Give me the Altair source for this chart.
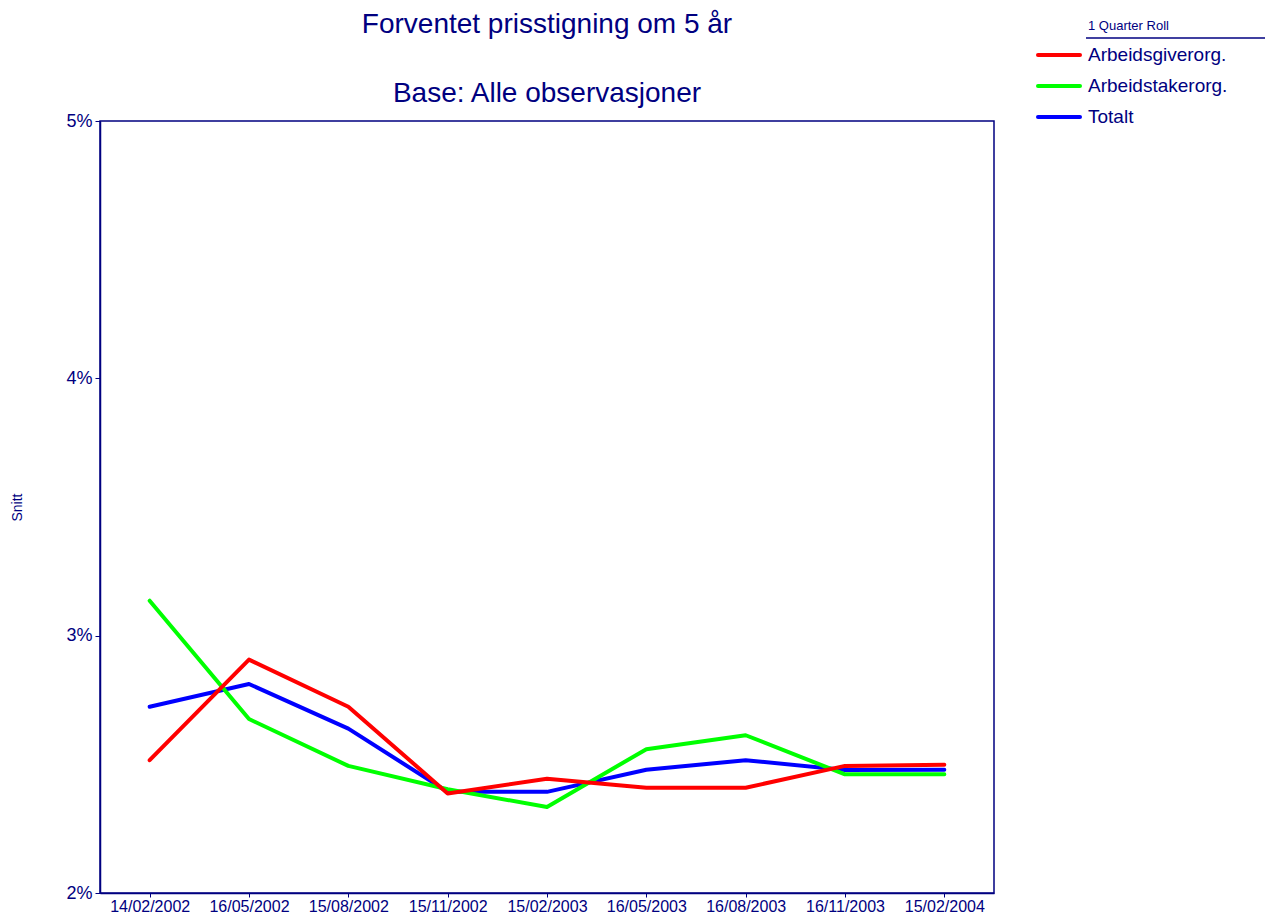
import altair as alt
import pandas as pd

dates = ["14/02/2002", "16/05/2002", "15/08/2002", "15/11/2002", "15/02/2003",
         "16/05/2003", "16/08/2003", "16/11/2003", "15/02/2004"]
series_names = ["Arbeidsgiverorg.", "Arbeidstakerorg.", "Totalt"]
series_colors = ["#ff0000", "#00ff00", "#0000ff"]

arbeidsgiver = [2.516, 2.907, 2.724, 2.387, 2.444, 2.409, 2.409, 2.494, 2.498]
arbeidstaker = [3.136, 2.676, 2.494, 2.403, 2.334, 2.559, 2.613, 2.461, 2.461]
totalt = [2.724, 2.812, 2.639, 2.393, 2.393, 2.479, 2.516, 2.478, 2.479]

title_lines = ["Forventet prisstigning om 5 år", "Base: Alle observasjoner"]
legend_heading = "1 Quarter Roll"

NAVY = "#000080"
FONT = "Liberation Sans"

rows = []
# drawing order: Totalt first, then Arbeidstakerorg., then Arbeidsgiverorg. on top
for name, vals in [("Totalt", totalt), ("Arbeidstakerorg.", arbeidstaker),
                   ("Arbeidsgiverorg.", arbeidsgiver)]:
    for d, v in zip(dates, vals):
        rows.append({"Dato": d, "Serie": name, "Snitt": v / 100.0})
df = pd.DataFrame(rows)

color_scale = alt.Scale(domain=series_names, range=series_colors)

lines = alt.Chart(df).mark_line(strokeWidth=4, strokeJoin="round", strokeCap="round").encode(
    x=alt.X("Dato:N", sort=dates, title=None,
            scale=alt.Scale(type="point", padding=0.5),
            axis=alt.Axis(labelAngle=0, labelFontSize=16, labelColor=NAVY, labelFont=FONT,
                          tickColor=NAVY, tickSize=4, domainColor=NAVY, domainWidth=1.5,
                          labelPadding=1, grid=False)),
    y=alt.Y("Snitt:Q", title="Snitt",
            scale=alt.Scale(domain=[0.02, 0.05], nice=False, zero=False),
            axis=alt.Axis(format=".0%", values=[0.02, 0.03, 0.04, 0.05], labelFontSize=18,
                          labelColor=NAVY, labelFont=FONT, tickColor=NAVY, tickSize=5,
                          domainColor=NAVY, domainWidth=1.5, grid=False, labelPadding=3,
                          titleFontSize=14, titleFontWeight="normal", titleColor=NAVY,
                          titleFont=FONT, titlePadding=41)),
    color=alt.Color("Serie:N", scale=color_scale, legend=None),
)

# legend built from the series list
leg_df = pd.DataFrame({"Serie": series_names})
leg_y = alt.Y("Serie:N", sort=series_names,
              scale=alt.Scale(type="point", domain=series_names, range=[-66, -4], padding=0),
              axis=None)
leg_sym = alt.Chart(leg_df).mark_rule(strokeWidth=4, strokeCap="round").encode(
    x=alt.value(938), x2=alt.value(980), y=leg_y,
    color=alt.Color("Serie:N", scale=color_scale, legend=None),
)
leg_txt = alt.Chart(leg_df).mark_text(
    align="left", baseline="middle", fontSize=19, color=NAVY, font=FONT
).encode(x=alt.value(988), y=leg_y, text="Serie:N")

title1 = alt.Chart(pd.DataFrame({"t": [title_lines[0]]})).mark_text(
    align="center", baseline="alphabetic", fontSize=28, color=NAVY, font=FONT
).encode(x=alt.value(447), y=alt.value(-88), text="t:N")
title2 = alt.Chart(pd.DataFrame({"t": [title_lines[1]]})).mark_text(
    align="center", baseline="alphabetic", fontSize=28, color=NAVY, font=FONT
).encode(x=alt.value(447), y=alt.value(-19), text="t:N")

legend_title = alt.Chart(pd.DataFrame({"t": [legend_heading]})).mark_text(
    align="left", baseline="alphabetic", fontSize=13, color=NAVY, font=FONT
).encode(x=alt.value(988), y=alt.value(-91), text="t:N")

legend_rule = alt.Chart(pd.DataFrame({"a": [0]})).mark_rule(color=NAVY, strokeWidth=1.5).encode(
    x=alt.value(986), x2=alt.value(1175), y=alt.value(-83)
)

chart = alt.layer(lines, leg_sym, leg_txt, title1, title2, legend_title, legend_rule).resolve_scale(
    y="independent"
).properties(
    width=894, height=772,
    autosize=alt.AutoSizeParams(type="none"),
    padding={"left": 92, "top": 113, "right": 271, "bottom": 22},
).configure(font=FONT, view=alt.ViewConfig(stroke=NAVY, strokeWidth=1.5))

chart.save("out.html", embed_options={"renderer": "svg", "actions": False})
